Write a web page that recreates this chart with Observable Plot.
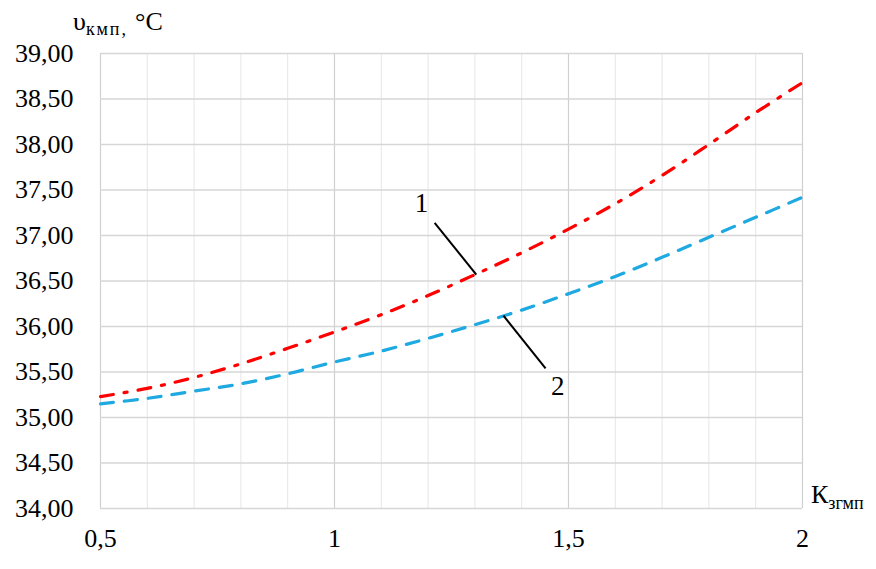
<!DOCTYPE html>
<html>
<head>
<meta charset="utf-8">
<script src="https://cdn.jsdelivr.net/npm/d3@7"></script>
<script src="https://cdn.jsdelivr.net/npm/@observablehq/plot@0.6"></script>
<style>
  html, body { margin: 0; padding: 0; background: #fff; }
  #chart { width: 876px; height: 569px; }
</style>
</head>
<body>
<div id="chart"></div>
<script>
// K_згмп values
const kValues = [0.5, 0.6, 0.7, 0.8, 0.9, 1.0, 1.1, 1.2, 1.3, 1.4, 1.5, 1.6, 1.7, 1.8, 1.9, 2.0];
// Curve 1 (red, dash-dot)
const series1 = [35.23, 35.32, 35.44, 35.59, 35.76, 35.94, 36.13, 36.34, 36.57, 36.81, 37.07, 37.35, 37.66, 38.00, 38.35, 38.68];
// Curve 2 (blue, dashed)
const series2 = [35.15, 35.21, 35.29, 35.37, 35.48, 35.61, 35.73, 35.87, 36.02, 36.18, 36.36, 36.55, 36.76, 36.98, 37.20, 37.42];

const yTicks = [34, 34.5, 35, 35.5, 36, 36.5, 37, 37.5, 38, 38.5, 39];
const xTicks = [0.5, 1, 1.5, 2];
const xMinor = [0.6, 0.7, 0.8, 0.9, 1.1, 1.2, 1.3, 1.4, 1.6, 1.7, 1.8, 1.9];

// Curve labels and leader lines (data units)
const curveLabels = ["1", "2"];
const labelX = [1.186, 1.477];
const labelY = [37.35, 35.34];
const leaderX1 = [1.214, 1.361];
const leaderY1 = [37.14, 36.12];
const leaderX2 = [1.303, 1.451];
const leaderY2 = [36.57, 35.54];

const d1 = kValues.map((k, i) => ({k, v: series1[i]}));
const d2 = kValues.map((k, i) => ({k, v: series2[i]}));
const labels = curveLabels.map((t, i) => ({t, x: labelX[i], y: labelY[i]}));
const leaders = curveLabels.map((t, i) => ({x1: leaderX1[i], y1: leaderY1[i], x2: leaderX2[i], y2: leaderY2[i]}));

const fmtY = d => d.toFixed(2).replace(".", ",");
const fmtX = d => String(d).replace(".", ",");
const serif = "Liberation Serif";

const chart = Plot.plot({
  width: 876,
  height: 569,
  marginLeft: 100,
  marginRight: 74,
  marginTop: 53,
  marginBottom: 61,
  style: {fontFamily: serif, fontSize: "26px", background: "#fff", color: "#000"},
  x: {domain: [0.5, 2]},
  y: {domain: [34, 39]},
  marks: [
    Plot.ruleX(xMinor, {stroke: "#e6e6e6", strokeWidth: 1}),
    Plot.ruleX(xTicks, {stroke: "#d0d0d0", strokeWidth: 1.2}),
    Plot.ruleY(yTicks, {stroke: "#d6d6d6", strokeWidth: 1.5}),
    Plot.axisY({ticks: yTicks, tickSize: 0, tickPadding: 27, tickFormat: fmtY, label: null, fontSize: 26, fontFamily: serif}),
    Plot.axisX({ticks: xTicks, tickSize: 0, tickPadding: 20, tickFormat: fmtX, label: null, fontSize: 26, fontFamily: serif}),
    Plot.line(d1, {x: "k", y: "v", stroke: "#ff0000", strokeWidth: 3.2, strokeDasharray: "13,11,3,11", curve: "catmull-rom"}),
    Plot.line(d2, {x: "k", y: "v", stroke: "#1fa9e1", strokeWidth: 3.2, strokeDasharray: "13,11", curve: "catmull-rom"}),
    Plot.link(leaders, {x1: "x1", y1: "y1", x2: "x2", y2: "y2", stroke: "#000", strokeWidth: 2}),
    Plot.text(labels, {x: "x", y: "y", text: "t", fontSize: 27, fill: "#000", fontFamily: serif})
  ]
});

const svg = d3.select(chart);
// Y axis title: υкмп, °C
const yt = svg.append("text")
  .attr("x", 73).attr("y", 30)
  .attr("text-anchor", "start")
  .attr("font-family", serif)
  .attr("font-size", 26).attr("fill", "#000");
yt.append("tspan").text("υ");
yt.append("tspan").attr("font-size", 18).attr("dy", 5).attr("textLength", 40).text("кмп,");
yt.append("tspan").attr("dy", -5).attr("x", 135).text("°C");

// X axis title: Кзгмп
const xt = svg.append("text")
  .attr("x", 811).attr("y", 503)
  .attr("text-anchor", "start")
  .attr("font-family", serif)
  .attr("font-size", 26).attr("fill", "#000");
xt.append("tspan").text("К");
xt.append("tspan").attr("font-size", 18).attr("dy", 6).text("згмп");

document.getElementById("chart").appendChild(chart);
</script>
</body>
</html>
